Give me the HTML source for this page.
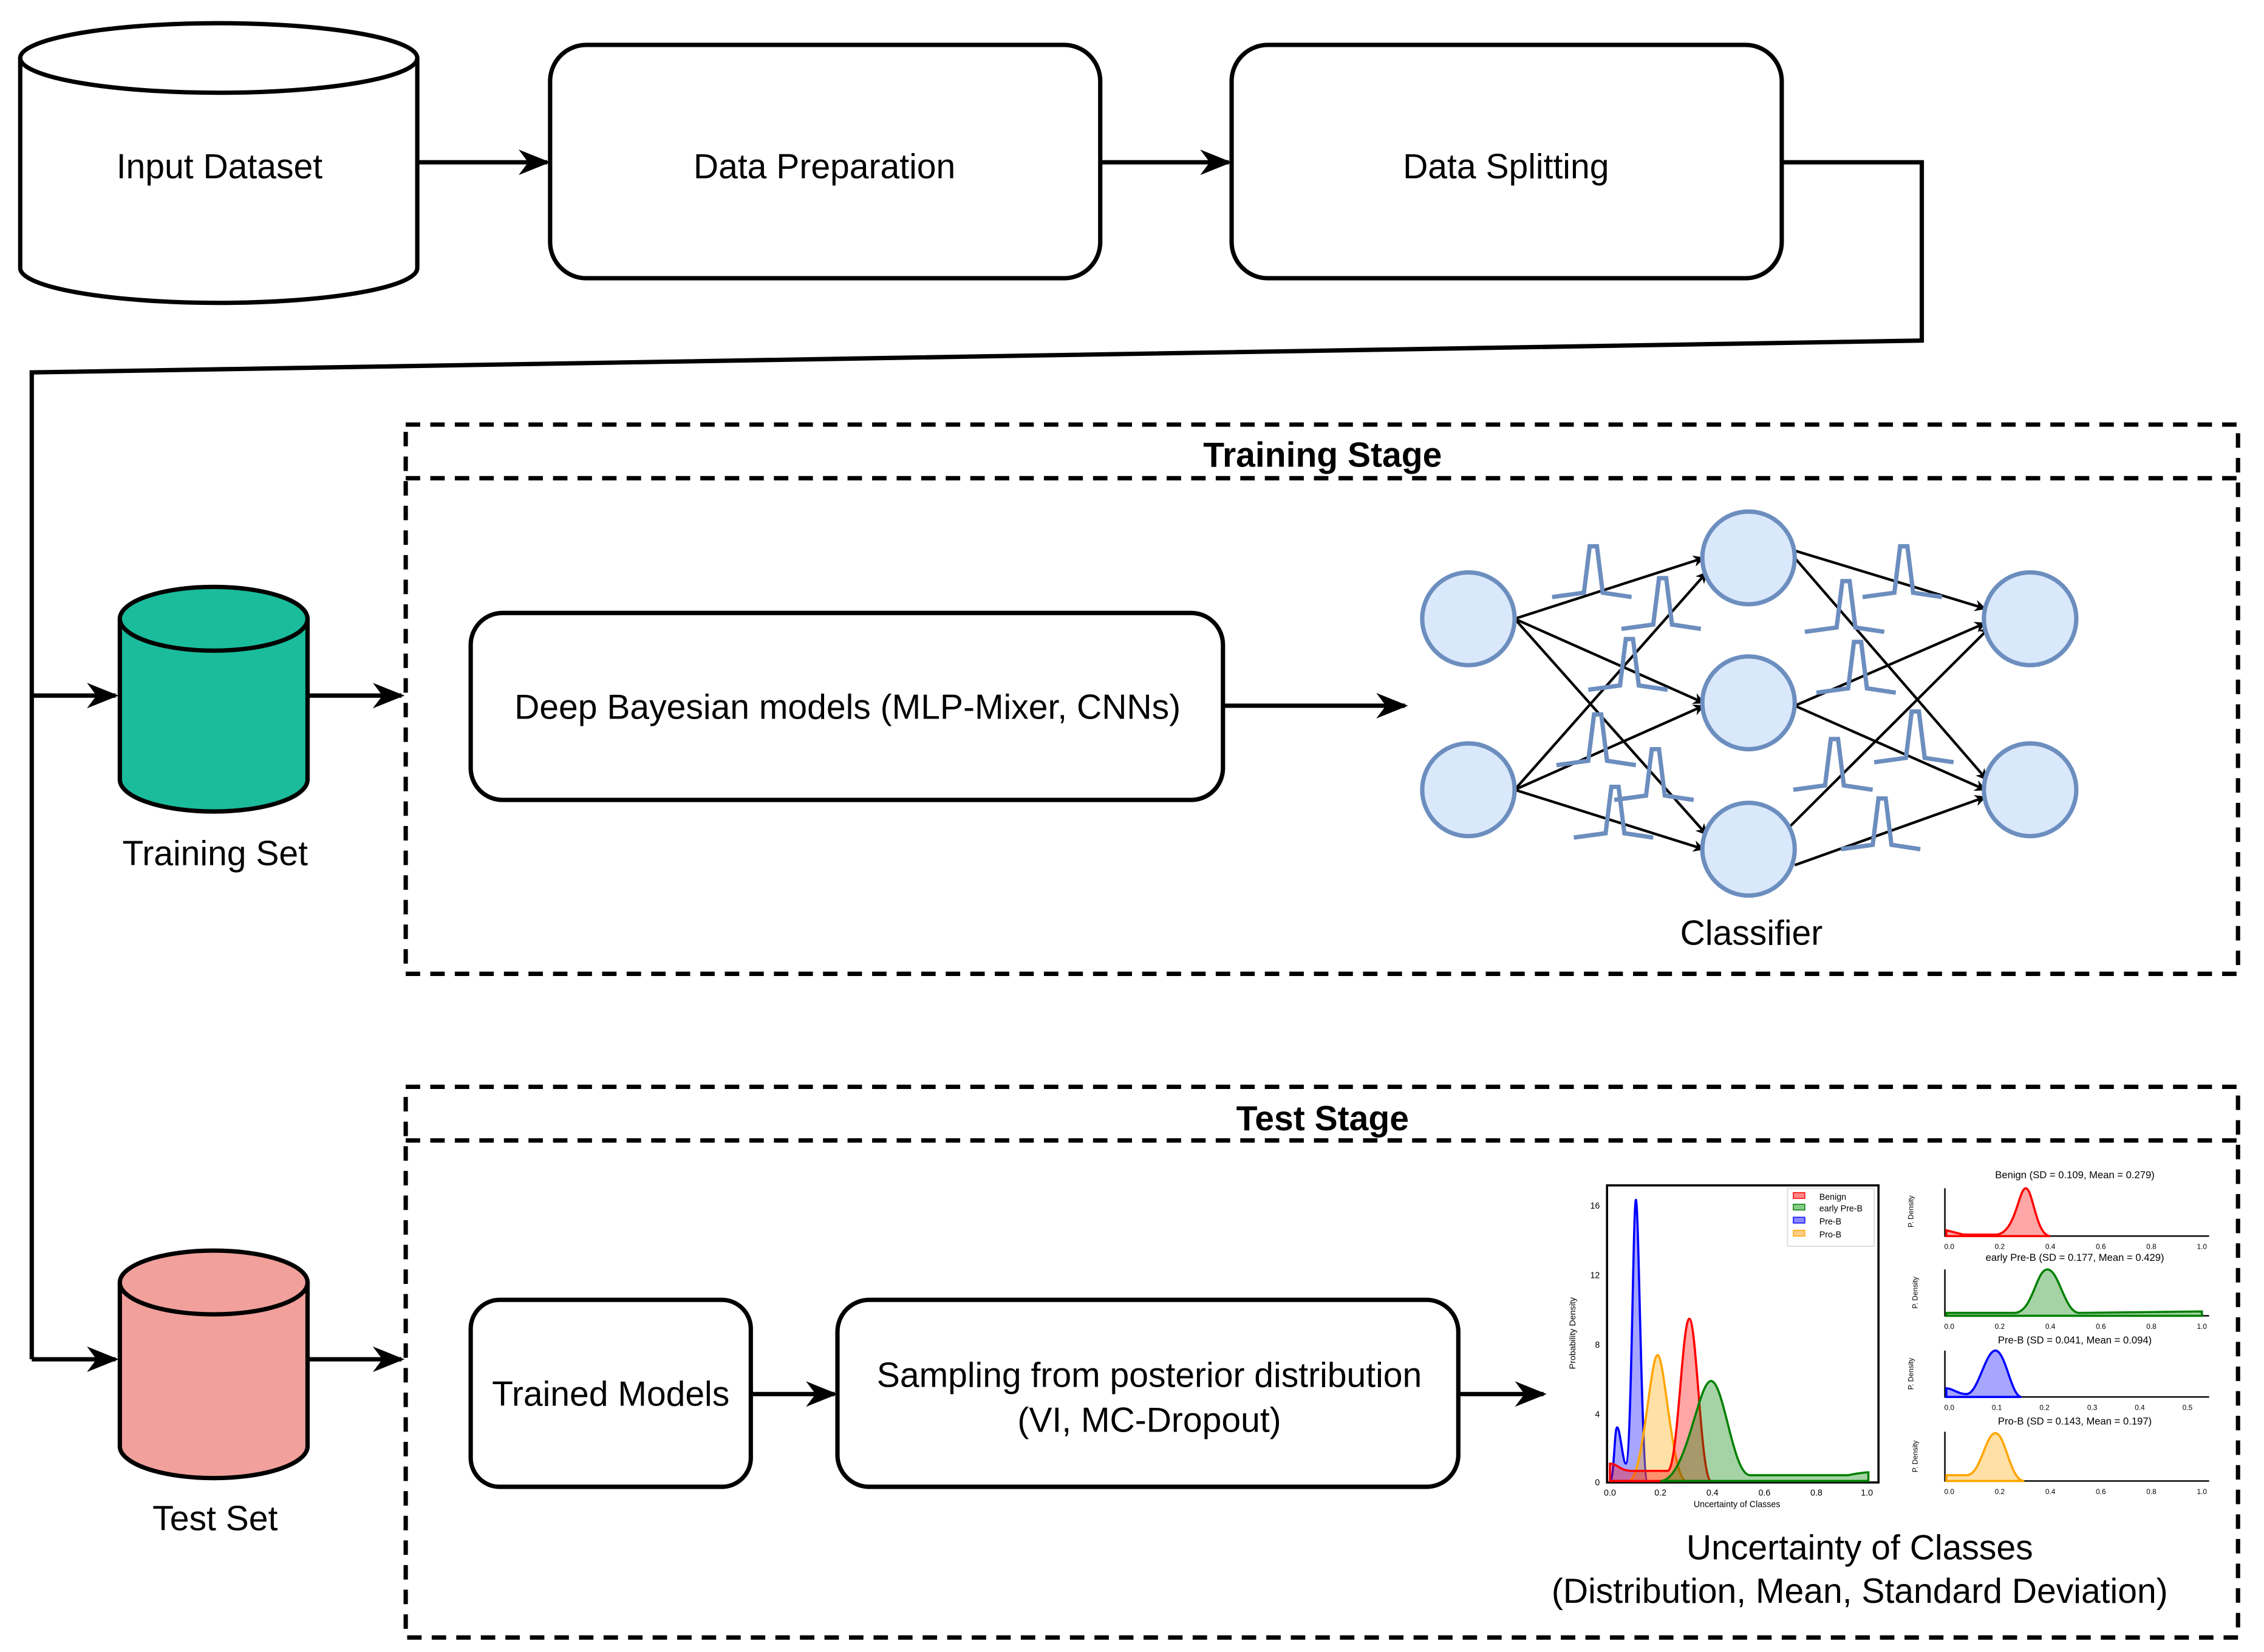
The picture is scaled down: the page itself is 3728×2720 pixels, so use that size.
<!DOCTYPE html>
<html><head><meta charset="utf-8">
<style>
html,body{margin:0;padding:0;background:#fff;}
svg{display:block;}
text{font-family:"Liberation Sans","DejaVu Sans",sans-serif;}
</style></head>
<body>
<svg width="3728" height="2720" viewBox="0 0 1568 1140" preserveAspectRatio="none" xmlns="http://www.w3.org/2000/svg">
<defs>
<marker id="ar" viewBox="0 0 10 10" refX="9" refY="5" markerWidth="8" markerHeight="8" orient="auto" markerUnits="userSpaceOnUse">
<path d="M0,0 L10,5 L0,10 L3,5 Z" fill="#000"/></marker>
<marker id="a2" viewBox="0 0 10 10" refX="9" refY="5" markerWidth="22" markerHeight="22" orient="auto" markerUnits="userSpaceOnUse">
<path d="M0,1 L10,5 L0,9 L3,5 Z" fill="#000"/></marker>
</defs>
<g stroke="#000" stroke-width="3" fill="none">
<!-- Input cylinder -->
<path d="M14,40 L14,185 A137.5,24 0 0 0 289,185 L289,40" fill="#fff"/>
<ellipse cx="151.5" cy="40" rx="137.5" ry="24" fill="#fff"/>
<rect x="381" y="31" width="381" height="161" rx="25" fill="#fff"/>
<rect x="853" y="31" width="381" height="161" rx="25" fill="#fff"/>
<line x1="289" y1="112" x2="379" y2="112" marker-end="url(#a2)"/>
<line x1="762" y1="112" x2="851" y2="112" marker-end="url(#a2)"/>
<polyline points="1234,112 1331,112 1331,235 22,257 22,938"/>
<line x1="22" y1="480" x2="80" y2="480" marker-end="url(#a2)"/>
<line x1="22" y1="938" x2="80" y2="938" marker-end="url(#a2)"/>
<!-- training cylinder -->
<path d="M83,427 L83,538 A65,22 0 0 0 213,538 L213,427" fill="#1abc9c"/>
<ellipse cx="148" cy="427" rx="65" ry="22" fill="#1abc9c"/>
<line x1="213" y1="480" x2="278" y2="480" marker-end="url(#a2)"/>
<!-- training box -->
<rect x="281" y="293" width="1269" height="379" stroke-dasharray="10,7"/>
<line x1="281" y1="330" x2="1550" y2="330" stroke-dasharray="10,7"/>
<rect x="326" y="423" width="521" height="129" rx="22" fill="#fff"/>
<line x1="847" y1="487" x2="973" y2="487" marker-end="url(#a2)"/>
<!-- test cylinder -->
<path d="M83,885 L83,998 A65,22 0 0 0 213,998 L213,885" fill="#f1a09b"/>
<ellipse cx="148" cy="885" rx="65" ry="22" fill="#f1a09b"/>
<line x1="213" y1="938" x2="278" y2="938" marker-end="url(#a2)"/>
<rect x="281" y="750" width="1269" height="380" stroke-dasharray="10,7"/>
<line x1="281" y1="787" x2="1550" y2="787" stroke-dasharray="10,7"/>
<rect x="326" y="897" width="194" height="129" rx="20" fill="#fff"/>
<rect x="580" y="897" width="430" height="129" rx="22" fill="#fff"/>
<line x1="520" y1="962" x2="578" y2="962" marker-end="url(#a2)"/>
<line x1="1010" y1="962" x2="1069" y2="962" marker-end="url(#a2)"/>
</g>
<!-- neural network edges -->
<g stroke="#000" stroke-width="1.8" marker-end="url(#ar)">
<line x1="1049" y1="427" x2="1180" y2="385"/>
<line x1="1049" y1="427" x2="1180" y2="485"/>
<line x1="1049" y1="427" x2="1182" y2="576"/>
<line x1="1049" y1="545" x2="1182" y2="395"/>
<line x1="1049" y1="545" x2="1180" y2="487"/>
<line x1="1049" y1="545" x2="1180" y2="586"/>
<line x1="1243" y1="380" x2="1375" y2="420"/>
<line x1="1243" y1="385" x2="1376" y2="538"/>
<line x1="1243" y1="487" x2="1375" y2="430"/>
<line x1="1243" y1="487" x2="1375" y2="545"/>
<line x1="1238" y1="572" x2="1378" y2="433"/>
<line x1="1243" y1="597" x2="1375" y2="550"/>
</g>
<g fill="#dae8fc" stroke="#6c8ebf" stroke-width="3">
<circle cx="1017" cy="427" r="32"/><circle cx="1017" cy="545" r="32"/>
<circle cx="1211" cy="385" r="32"/><circle cx="1211" cy="485" r="32"/><circle cx="1211" cy="586" r="32"/>
<circle cx="1406" cy="427" r="32"/><circle cx="1406" cy="545" r="32"/>
</g>
<g stroke="#6c8ebf" stroke-width="3" fill="none">
<path id="bl" d="M0,0 L22,-3 L26,-35 L31,-35 L35,-3 L55,0" transform="translate(1075,412)"/>
<path d="M0,0 L22,-3 L26,-35 L31,-35 L35,-3 L55,0" transform="translate(1123,434)"/>
<path d="M0,0 L22,-3 L26,-35 L31,-35 L35,-3 L55,0" transform="translate(1100,476)"/>
<path d="M0,0 L22,-3 L26,-35 L31,-35 L35,-3 L55,0" transform="translate(1078,528)"/>
<path d="M0,0 L22,-3 L26,-35 L31,-35 L35,-3 L55,0" transform="translate(1118,552)"/>
<path d="M0,0 L22,-3 L26,-35 L31,-35 L35,-3 L55,0" transform="translate(1090,578)"/>
<path d="M0,0 L22,-3 L26,-35 L31,-35 L35,-3 L55,0" transform="translate(1290,412)"/>
<path d="M0,0 L22,-3 L26,-35 L31,-35 L35,-3 L55,0" transform="translate(1250,436)"/>
<path d="M0,0 L22,-3 L26,-35 L31,-35 L35,-3 L55,0" transform="translate(1258,478)"/>
<path d="M0,0 L22,-3 L26,-35 L31,-35 L35,-3 L55,0" transform="translate(1298,526)"/>
<path d="M0,0 L22,-3 L26,-35 L31,-35 L35,-3 L55,0" transform="translate(1242,545)"/>
<path d="M0,0 L22,-3 L26,-35 L31,-35 L35,-3 L55,0" transform="translate(1275,586)"/>
</g>
<!-- text -->
<g font-size="24" text-anchor="middle" fill="#000">
<text x="152" y="123">Input Dataset</text>
<text x="571" y="123">Data Preparation</text>
<text x="1043" y="123">Data Splitting</text>
<text x="916" y="322" font-weight="bold">Training Stage</text>
<text x="916" y="780" font-weight="bold">Test Stage</text>
<text x="587" y="496">Deep Bayesian models (MLP-Mixer, CNNs)</text>
<text x="149" y="597">Training Set</text>
<text x="1213" y="652">Classifier</text>
<text x="149" y="1056">Test Set</text>
<text x="423" y="970">Trained Models</text>
<text x="796" y="957">Sampling from posterior distribution</text>
<text x="796" y="988">(VI, MC-Dropout)</text>
<text x="1288" y="1076">Uncertainty of Classes</text>
<text x="1288" y="1106">(Distribution, Mean, Standard Deviation)</text>
</g>
<!-- main chart -->
<g>
<rect x="1113" y="818" width="188" height="205" fill="none" stroke="#000" stroke-width="1.5"/>
<path d="M1115,1022 C1118,1022 1118,985 1120,985 C1122,985 1124,1010 1126,1010 C1130,1010 1131,828 1133,828 C1135,828 1137,1022 1141,1022 Z" fill="rgba(0,0,255,0.35)" stroke="#00f" stroke-width="1.5"/>
<path d="M1128,1022 C1138,1022 1143,935 1148,935 C1153,935 1158,1022 1168,1022 Z" fill="rgba(255,165,0,0.35)" stroke="orange" stroke-width="1.5"/>
<path d="M1115,1022 L1115,1010 C1120,1010 1122,1015 1130,1015 L1155,1015 C1162,1015 1165,910 1170,910 C1175,910 1178,1022 1185,1022 Z" fill="rgba(255,0,0,0.35)" stroke="#f00" stroke-width="1.5"/>
<path d="M1150,1022 C1168,1022 1176,953 1185,953 C1194,953 1200,1018 1212,1018 L1280,1018 C1290,1016 1294,1016 1294,1016 L1294,1022 Z" fill="rgba(0,128,0,0.35)" stroke="green" stroke-width="1.5"/>
<rect x="1238" y="820" width="60" height="40" fill="#fff" stroke="#ddd" stroke-width="0.8"/>
<g font-size="6" fill="#000">
<rect x="1242" y="823" width="8" height="4" fill="#f88" stroke="#f00" stroke-width="0.6"/><text x="1260" y="828">Benign</text>
<rect x="1242" y="831" width="8" height="4" fill="#8c8" stroke="green" stroke-width="0.6"/><text x="1260" y="836">early Pre-B</text>
<rect x="1242" y="840" width="8" height="4" fill="#88f" stroke="#00f" stroke-width="0.6"/><text x="1260" y="845">Pre-B</text>
<rect x="1242" y="849" width="8" height="4" fill="#fc8" stroke="orange" stroke-width="0.6"/><text x="1260" y="854">Pro-B</text>
<text x="1108" y="834" text-anchor="end">16</text><text x="1108" y="882" text-anchor="end">12</text><text x="1108" y="930" text-anchor="end">8</text><text x="1108" y="978" text-anchor="end">4</text><text x="1108" y="1025" text-anchor="end">0</text>
<text x="1115" y="1032" text-anchor="middle">0.0</text><text x="1150" y="1032" text-anchor="middle">0.2</text><text x="1186" y="1032" text-anchor="middle">0.4</text><text x="1222" y="1032" text-anchor="middle">0.6</text><text x="1258" y="1032" text-anchor="middle">0.8</text><text x="1293" y="1032" text-anchor="middle">1.0</text>
<text x="1203" y="1040" text-anchor="middle">Uncertainty of Classes</text>
<text transform="translate(1091,920) rotate(-90)" text-anchor="middle">Probability Density</text>
</g>
</g>
<!-- small charts -->
<g font-size="7" fill="#000" stroke-width="1.5">
<text x="1437" y="813" text-anchor="middle">Benign (SD = 0.109, Mean = 0.279)</text>
<path d="M1347,820 L1347,853 L1530,853" fill="none" stroke="#000" stroke-width="1"/>
<path d="M1348,853 L1348,849 L1360,852 L1382,852 C1396,852 1398,820 1403,820 C1408,820 1410,853 1420,853 Z" fill="rgba(255,0,0,0.35)" stroke="#f00"/>
<text x="1437" y="870" text-anchor="middle">early Pre-B (SD = 0.177, Mean = 0.429)</text>
<path d="M1347,876 L1347,908 L1530,908" fill="none" stroke="#000" stroke-width="1"/>
<path d="M1348,908 L1348,906 L1395,906 C1408,906 1410,876 1418,876 C1426,876 1430,906 1440,906 L1525,905 L1525,908 Z" fill="rgba(0,128,0,0.35)" stroke="green"/>
<text x="1437" y="927" text-anchor="middle">Pre-B (SD = 0.041, Mean = 0.094)</text>
<path d="M1347,932 L1347,964 L1530,964" fill="none" stroke="#000" stroke-width="1"/>
<path d="M1348,964 L1348,958 C1352,958 1356,962 1362,962 C1370,962 1375,932 1382,932 C1389,932 1393,964 1400,964 Z" fill="rgba(0,0,255,0.35)" stroke="#00f"/>
<text x="1437" y="983" text-anchor="middle">Pro-B (SD = 0.143, Mean = 0.197)</text>
<path d="M1347,988 L1347,1022 L1530,1022" fill="none" stroke="#000" stroke-width="1"/>
<path d="M1348,1022 L1348,1018 L1362,1018 C1372,1018 1375,989 1382,989 C1389,989 1392,1022 1402,1022 Z" fill="rgba(255,165,0,0.35)" stroke="orange"/>
<g font-size="5" text-anchor="middle">
<text x="1350" y="862">0.0</text><text x="1385" y="862">0.2</text><text x="1420" y="862">0.4</text><text x="1455" y="862">0.6</text><text x="1490" y="862">0.8</text><text x="1525" y="862">1.0</text>
<text x="1350" y="917">0.0</text><text x="1385" y="917">0.2</text><text x="1420" y="917">0.4</text><text x="1455" y="917">0.6</text><text x="1490" y="917">0.8</text><text x="1525" y="917">1.0</text>
<text x="1350" y="973">0.0</text><text x="1383" y="973">0.1</text><text x="1416" y="973">0.2</text><text x="1449" y="973">0.3</text><text x="1482" y="973">0.4</text><text x="1515" y="973">0.5</text>
<text x="1350" y="1031">0.0</text><text x="1385" y="1031">0.2</text><text x="1420" y="1031">0.4</text><text x="1455" y="1031">0.6</text><text x="1490" y="1031">0.8</text><text x="1525" y="1031">1.0</text>
<text transform="translate(1325,836) rotate(-90)">P. Density</text>
<text transform="translate(1328,892) rotate(-90)">P. Density</text>
<text transform="translate(1325,948) rotate(-90)">P. Density</text>
<text transform="translate(1328,1005) rotate(-90)">P. Density</text>
</g>
</g>
</svg>
</body></html>
